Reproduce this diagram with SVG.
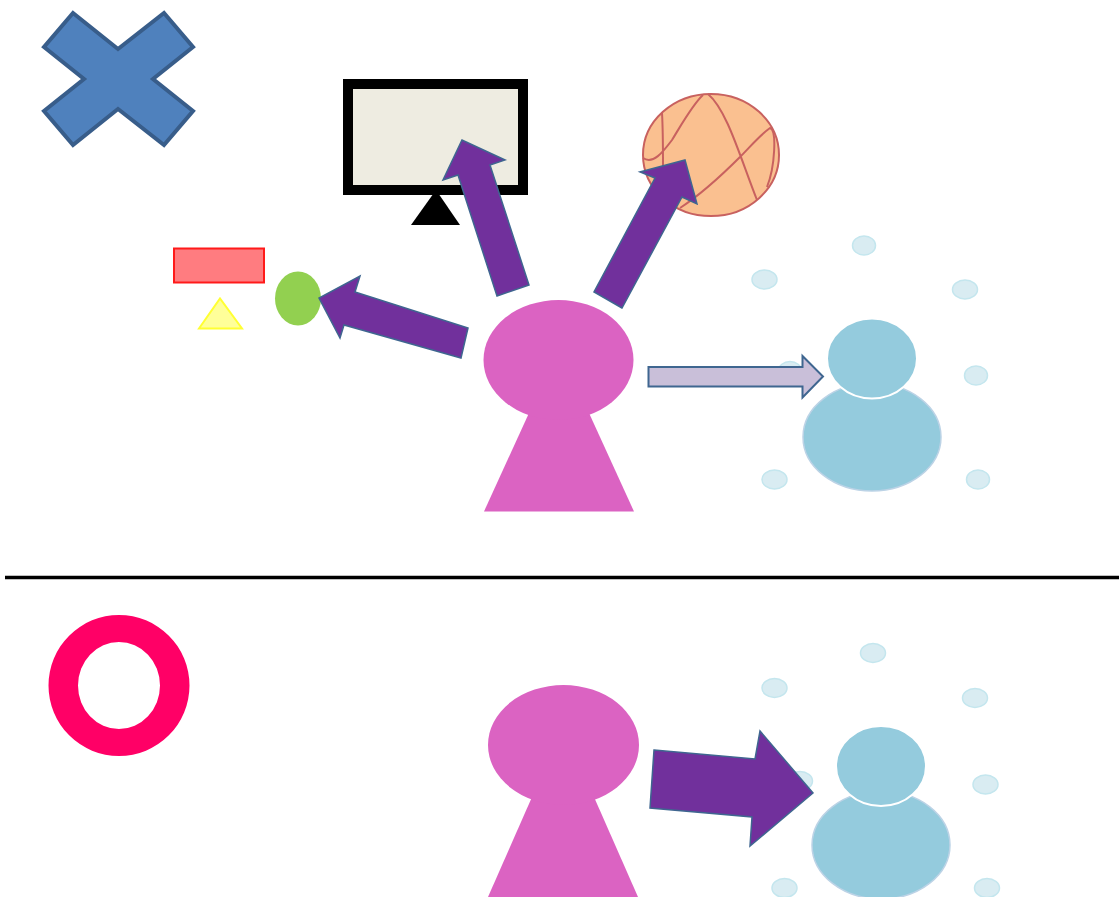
<svg xmlns="http://www.w3.org/2000/svg" width="1120" height="897" viewBox="0 0 1120 897">
<style>
.body{fill:#db63c2}
.bl{fill:#94cbdd;stroke:#bcd3e6;stroke-width:1.500}
.head{fill:#94cbdd;stroke:#fff;stroke-width:2}
.dot{fill:#d9ecf2;stroke:#c4e6ee;stroke-width:1.500}
.arrow{fill:#71309c;stroke:#3f6690;stroke-width:1.500}
.seam{fill:none;stroke:#c8615f;stroke-width:2}
</style>
<rect width="1120" height="897" fill="#fff"/>
<g id="cross"><path d="M73 13L118 49L164 13L193 47L153 79L193 111L164 145L118 109L73 145L44 111L84 79L44 47Z" fill="#4f81bd" stroke="#385d8a" stroke-width="4"/></g>
<g id="circle-mark"><path fill-rule="evenodd" d="M48.500 685.500a70.500 70.500 0 1 0 141 0a70.500 70.500 0 1 0 -141 0ZM78 685.500a41 43.500 0 1 1 82 0a41 43.500 0 1 1 -82 0Z" fill="#ff0066"/></g>
<g id="divider"><line x1="5" y1="577.500" x2="1119" y2="577.500" stroke="#000" stroke-width="3.500"/></g>
<g id="monitor"><rect x="348" y="84" width="175" height="106" fill="#eeece1" stroke="#000" stroke-width="10"/><path d="M411 225L460 225L436 190Z" fill="#000"/></g>
<g id="ball"><ellipse cx="711" cy="155" rx="68" ry="61" fill="#fac090" stroke="#c8615f" stroke-width="2"/>
<path class="seam" d="M662 113C663 130 663 150 663 167M643 158C653 165 663 152 672 140C683 122 693 104 703 95M708 94C727 110 740 157 757 200M680 208C703 193 722 175 740 157C750 147 760 135 770 128C777 130 775 167 767 187"/></g>
<g id="red-rect"><rect x="174" y="248.500" width="90" height="34" fill="#ff7c80" stroke="#ff1a1a" stroke-width="2"/></g>
<g id="yellow-triangle"><path d="M199 328.500L220 298.500L242 328.500Z" fill="#ffff99" stroke="#ffff33" stroke-width="2"/></g>
<g id="green-ball"><ellipse cx="298" cy="298.500" rx="23" ry="27" fill="#92d050"/></g>
<g id="person-top"><path class="body" d="M484 511.500L634 511.500L589 413L529 413Z"/><ellipse class="body" cx="558.500" cy="360" rx="75" ry="60"/></g>
<g id="person-bottom"><path class="body" d="M488 897L638 897L594 797L532 797Z"/><ellipse class="body" cx="563.500" cy="745" rx="75.500" ry="60"/></g>
<g id="crowd-top">
<ellipse class="dot" cx="764.500" cy="279.500" rx="12.500" ry="9.500"/><ellipse class="dot" cx="864" cy="245.500" rx="11.500" ry="9.500"/><ellipse class="dot" cx="965" cy="289.500" rx="12.500" ry="9.500"/><ellipse class="dot" cx="976" cy="375.500" rx="11.500" ry="9.500"/><ellipse class="dot" cx="774.500" cy="479.500" rx="12.500" ry="9.500"/><ellipse class="dot" cx="978" cy="479.500" rx="11.500" ry="9.500"/><ellipse class="dot" cx="790" cy="371" rx="11.500" ry="9.500"/>
<ellipse class="bl" cx="872" cy="437" rx="69" ry="54"/><ellipse class="head" cx="872" cy="358.500" rx="45" ry="40"/></g>
<g id="crowd-bottom">
<ellipse class="dot" cx="774.500" cy="688" rx="12.500" ry="9.500"/><ellipse class="dot" cx="873" cy="653" rx="12.500" ry="9.500"/><ellipse class="dot" cx="975" cy="698" rx="12.500" ry="9.500"/><ellipse class="dot" cx="985.500" cy="784.500" rx="12.500" ry="9.500"/><ellipse class="dot" cx="784.500" cy="888" rx="12.500" ry="9.500"/><ellipse class="dot" cx="987" cy="888" rx="12.500" ry="9.500"/><ellipse class="dot" cx="800" cy="781" rx="12.500" ry="9.500"/>
<ellipse class="bl" cx="881" cy="845" rx="69" ry="54"/><ellipse class="head" cx="881" cy="766" rx="45" ry="40"/></g>
<g id="connectors">
<path class="arrow" d="M497 296L458 175L443 180L462 140L505 160L490 165L529 285Z"/>
<path class="arrow" d="M622 308L594 292L655 178L640 172L685 160L697 204L682 197Z"/>
<path class="arrow" d="M468 328L461 358L344 325L340 338L319 298L360 276L355 292Z"/>
<path d="M648.500 367L802.500 367L802.500 356L823 376.500L802.500 397.500L802.500 386.500L648.500 386.500Z" fill="#c9bfd9" stroke="#3f6690" stroke-width="2"/>
<path class="arrow" d="M654 750L755 759L760 731L813 793L750 846L752 817L650 808Z"/>
</g>
</svg>
